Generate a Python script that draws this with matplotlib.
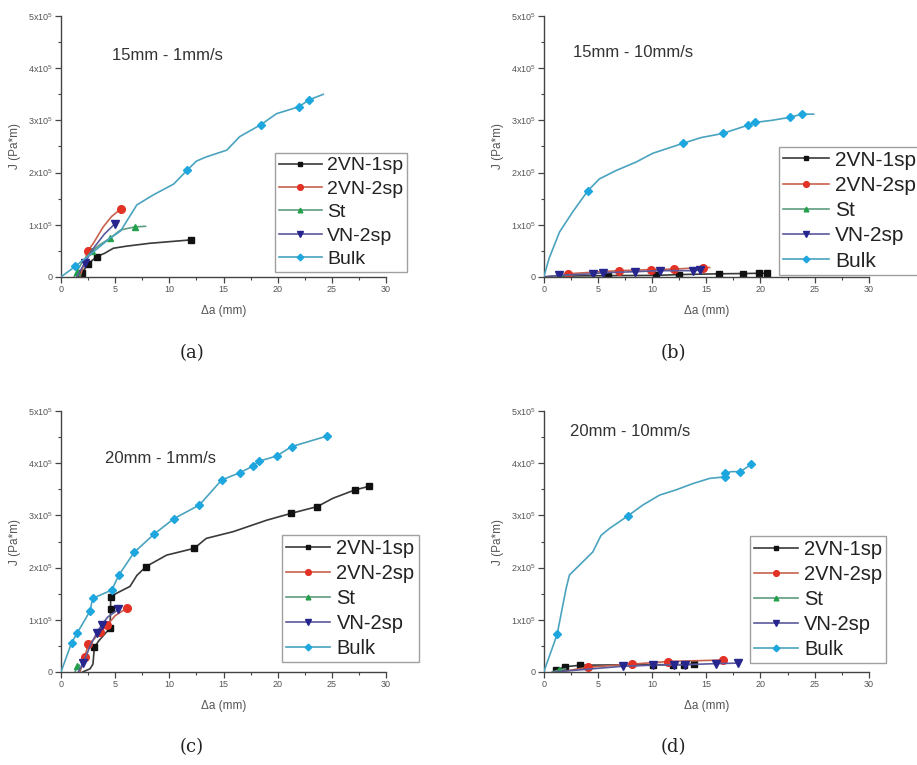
import numpy as np
import matplotlib
matplotlib.use("Agg")
import matplotlib.pyplot as plt
from matplotlib.ticker import MultipleLocator, FuncFormatter

plt.rcParams['font.family'] = ['Liberation Sans', 'DejaVu Sans']
plt.rcParams['mathtext.fontset'] = 'custom'
plt.rcParams['mathtext.rm'] = 'Liberation Sans'
plt.rcParams['mathtext.default'] = 'regular'

SERIES = ["2VN-1sp", "2VN-2sp", "St", "VN-2sp", "Bulk"]
PANEL_TITLES = ["15mm - 1mm/s", "15mm - 10mm/s", "20mm - 1mm/s", "20mm - 10mm/s"]
PANEL_TAGS = ["(a)", "(b)", "(c)", "(d)"]

# J values are in units of 1e5 Pa*m; marker lists are indices of measured points
# ---- (a) 15mm - 1mm/s
a_1sp_x = [1.6, 1.97, 2.46, 3.29, 4.0, 4.83, 6.06, 8.2, 12.0]
a_1sp_y = [0, 0.08, 0.24, 0.39, 0.45, 0.55, 0.59, 0.645, 0.71]
a_1sp_m = [1, 2, 3, 8]
a_2sp_x = [1.75, 2.2, 2.46, 3.0, 3.9, 4.68, 5.5]
a_2sp_y = [0, 0.3, 0.49, 0.65, 0.96, 1.16, 1.30]
a_2sp_m = [2, 6]
a_st_x = [1.2, 1.45, 2.0, 2.83, 3.6, 4.52, 5.5, 6.83, 7.8]
a_st_y = [0, 0.1, 0.3, 0.49, 0.62, 0.74, 0.9, 0.96, 0.97]
a_st_m = [1, 3, 5, 7]
a_vn_x = [1.45, 2.2, 3.0, 4.0, 4.98]
a_vn_y = [0, 0.27, 0.55, 0.82, 1.02]
a_vn_m = [1, 4]
a_bulk_x = [0, 1.3, 3.0, 4.5, 5.5, 7.0, 8.5, 10.4, 11.66, 12.5, 13.4, 15.3, 16.5,
            18.46, 19.9, 21.94, 22.86, 24.2]
a_bulk_y = [0, 0.2, 0.48, 0.74, 0.88, 1.38, 1.57, 1.78, 2.05, 2.22, 2.3, 2.43, 2.69,
            2.92, 3.13, 3.26, 3.39, 3.5]
a_bulk_m = [1, 8, 13, 15, 16]

# ---- (b) 15mm - 10mm/s
b_1sp_x = [0, 3.0, 5.9, 10.4, 12.5, 16.2, 18.4, 19.9, 20.6]
b_1sp_y = [0, 0.02, 0.025, 0.03, 0.045, 0.06, 0.065, 0.07, 0.07]
b_1sp_m = [2, 3, 4, 5, 6, 7, 8]
b_2sp_x = [0, 1.0, 2.2, 4.5, 6.9, 9.85, 12.06, 14.7, 15.3]
b_2sp_y = [0, 0.02, 0.06, 0.09, 0.12, 0.14, 0.15, 0.18, 0.18]
b_2sp_m = [2, 4, 5, 6, 7]
b_st_x = [0.3, 1.5, 2.5]
b_st_y = [0, 0.02, 0.04]
b_st_m = [1]
b_vn_x = [0, 1.45, 4.5, 5.45, 8.4, 10.7, 13.75, 14.4]
b_vn_y = [0, 0.03, 0.06, 0.08, 0.1, 0.12, 0.12, 0.13]
b_vn_m = [1, 2, 3, 4, 5, 6, 7]
b_bulk_x = [0, 0.5, 1.45, 2.68, 4.06, 5.14, 6.68, 8.5, 10.06, 12.83, 14.5, 16.52,
            18.86, 19.45, 21.0, 22.74, 23.82, 24.9]
b_bulk_y = [0, 0.36, 0.86, 1.25, 1.65, 1.88, 2.04, 2.2, 2.37, 2.56, 2.67, 2.75,
            2.91, 2.96, 3.0, 3.06, 3.12, 3.12]
b_bulk_m = [4, 9, 11, 12, 13, 15, 16]

# ---- (c) 20mm - 1mm/s
c_1sp_x = [2.0, 2.68, 2.95, 3.08, 3.5, 4.52, 4.58, 4.58, 5.14, 6.37, 7.0, 7.85, 9.75,
           12.3, 13.4, 15.9, 19.0, 21.23, 23.66, 25.1, 27.14, 28.46]
c_1sp_y = [0, 0.06, 0.15, 0.47, 0.6, 0.84, 1.21, 1.44, 1.51, 1.64, 1.85, 2.02, 2.24,
           2.37, 2.56, 2.69, 2.91, 3.04, 3.17, 3.33, 3.49, 3.56]
c_1sp_m = [3, 5, 6, 7, 11, 13, 17, 18, 20, 21]
c_2sp_x = [1.75, 2.2, 2.52, 3.0, 3.6, 4.28, 5.0, 6.06]
c_2sp_y = [0, 0.29, 0.53, 0.62, 0.76, 0.9, 1.08, 1.22]
c_2sp_m = [1, 2, 4, 5, 7]
c_st_x = [1.3, 1.5, 1.7]
c_st_y = [0, 0.11, 0.13]
c_st_m = [1]
c_vn_x = [1.6, 2.06, 2.7, 3.3, 3.75, 4.3, 5.3]
c_vn_y = [0, 0.18, 0.5, 0.75, 0.9, 1.05, 1.2]
c_vn_m = [1, 3, 4, 6]
c_bulk_x = [0, 0.98, 1.51, 2.68, 2.92, 4.68, 5.35, 6.74, 8.58, 10.43, 12.77, 14.83,
            16.52, 17.75, 18.3, 19.9, 21.29, 24.52]
c_bulk_y = [0, 0.56, 0.75, 1.17, 1.41, 1.57, 1.86, 2.29, 2.64, 2.94, 3.2, 3.68,
            3.82, 3.95, 4.04, 4.14, 4.32, 4.52]
c_bulk_m = list(range(1, 18))

# ---- (d) 20mm - 10mm/s
d_1sp_x = [0.8, 1.14, 2.0, 3.38, 10.06, 11.9, 12.9, 13.9]
d_1sp_y = [0, 0.04, 0.1, 0.13, 0.14, 0.14, 0.14, 0.15]
d_1sp_m = [1, 2, 3, 4, 5, 6, 7]
d_2sp_x = [1.5, 4.06, 8.12, 11.45, 16.52]
d_2sp_y = [0, 0.09, 0.15, 0.2, 0.23]
d_2sp_m = [1, 2, 3, 4]
d_st_x = [0.8, 1.45, 2.0]
d_st_y = [0, 0.04, 0.06]
d_st_m = [1]
d_vn_x = [1.0, 7.3, 10.06, 12.0, 13.0, 15.9, 17.9]
d_vn_y = [0, 0.11, 0.13, 0.14, 0.14, 0.16, 0.17]
d_vn_m = [1, 2, 3, 4, 5, 6]
d_bulk_x = [0, 1.23, 2.06, 2.37, 3.45, 4.52, 5.29, 6.06, 7.75, 9.14, 10.68, 12.2,
            13.75, 15.3, 16.74, 16.74, 17.3, 18.15, 19.14]
d_bulk_y = [0, 0.72, 1.6, 1.86, 2.08, 2.3, 2.62, 2.75, 2.99, 3.2, 3.39, 3.49,
            3.61, 3.71, 3.74, 3.81, 3.84, 3.84, 3.98]
d_bulk_m = [1, 8, 14, 15, 17, 18]

panels = [
    [(a_1sp_x, a_1sp_y, a_1sp_m), (a_2sp_x, a_2sp_y, a_2sp_m), (a_st_x, a_st_y, a_st_m),
     (a_vn_x, a_vn_y, a_vn_m), (a_bulk_x, a_bulk_y, a_bulk_m)],
    [(b_1sp_x, b_1sp_y, b_1sp_m), (b_2sp_x, b_2sp_y, b_2sp_m), (b_st_x, b_st_y, b_st_m),
     (b_vn_x, b_vn_y, b_vn_m), (b_bulk_x, b_bulk_y, b_bulk_m)],
    [(c_1sp_x, c_1sp_y, c_1sp_m), (c_2sp_x, c_2sp_y, c_2sp_m), (c_st_x, c_st_y, c_st_m),
     (c_vn_x, c_vn_y, c_vn_m), (c_bulk_x, c_bulk_y, c_bulk_m)],
    [(d_1sp_x, d_1sp_y, d_1sp_m), (d_2sp_x, d_2sp_y, d_2sp_m), (d_st_x, d_st_y, d_st_m),
     (d_vn_x, d_vn_y, d_vn_m), (d_bulk_x, d_bulk_y, d_bulk_m)],
]

line_colors = ["#3a3a3a", "#c8624e", "#5f9c80", "#5a5a9c", "#4aa3bf"]
marker_colors = ["#111111", "#e23226", "#22a04a", "#26268e", "#1ea6de"]
markers = ["s", "o", "^", "v", "D"]
msizes = [4.5, 5.5, 4.5, 5.5, 4.5]

# axes placement in figure fraction: left, bottom, width, height
axes_pos = [(0.0665, 0.638, 0.3545, 0.341), (0.593, 0.638, 0.3545, 0.341),
            (0.0665, 0.1216, 0.3545, 0.341), (0.593, 0.1216, 0.3545, 0.341)]
legend_anchor = [(0.658, 0.019), (0.723, 0.008), (0.68, 0.038), (0.634, 0.033)]
legend_size = [14, 15, 14.5, 14.5]
title_pos = [(0.157, 0.85), (0.09, 0.862), (0.135, 0.82), (0.08, 0.923)]
tag_pos = [(0.209, 0.539), (0.734, 0.539), (0.209, 0.024), (0.734, 0.024)]


def yfmt(v, pos):
    if abs(v) < 1e-9:
        return "0"
    return r"%dx10$^{5}$" % round(v)


fig = plt.figure(figsize=(9.17, 7.65), dpi=100)
for k, series in enumerate(panels):
    ax = fig.add_axes(axes_pos[k])
    for i, (x, y, m) in enumerate(series):
        ax.plot(x, y, color=line_colors[i], lw=1.2, label=SERIES[i],
                marker=markers[i], markevery=m, ms=msizes[i],
                mfc=marker_colors[i], mec=marker_colors[i], zorder=2 + (i == 4))
    ax.set_xlim(0, 30)
    ax.set_ylim(0, 5)
    for s in ["top", "right"]:
        ax.spines[s].set_visible(False)
    for s in ["left", "bottom"]:
        ax.spines[s].set_color("#444444")
        ax.spines[s].set_linewidth(1.0)
    ax.xaxis.set_major_locator(MultipleLocator(5))
    ax.xaxis.set_minor_locator(MultipleLocator(2.5))
    ax.yaxis.set_major_locator(MultipleLocator(1))
    ax.yaxis.set_minor_locator(MultipleLocator(0.5))
    ax.yaxis.set_major_formatter(FuncFormatter(yfmt))
    ax.tick_params(which="major", direction="out", length=4, width=0.9,
                   color="#444444", labelsize=6.5, labelcolor="#555555", pad=2)
    ax.tick_params(which="minor", direction="out", length=2.5, width=0.8,
                   color="#444444")
    ax.set_xlabel("Δa (mm)", fontsize=8.5, color="#555555", labelpad=8)
    ax.set_ylabel("J (Pa*m)", fontsize=8.5, color="#555555", labelpad=5)
    ax.text(title_pos[k][0], title_pos[k][1], PANEL_TITLES[k], transform=ax.transAxes,
            fontsize=12, color="#333333", va="center", ha="left")
    leg = ax.legend(loc="lower left", bbox_to_anchor=legend_anchor[k],
                    fontsize=legend_size[k],
                    handlelength=2.2, handletextpad=0.3, labelspacing=0.3,
                    borderpad=0.2, borderaxespad=0, fancybox=False, frameon=True,
                    markerscale=0.75)
    leg.get_frame().set_edgecolor("#888888")
    leg.get_frame().set_linewidth(1.0)
    for t in leg.get_texts():
        t.set_color("#222222")
    fig.text(tag_pos[k][0], tag_pos[k][1], PANEL_TAGS[k], ha="center", va="center",
             fontsize=13, family="DejaVu Serif", color="#222222")

fig.savefig("out.png", dpi=100)
